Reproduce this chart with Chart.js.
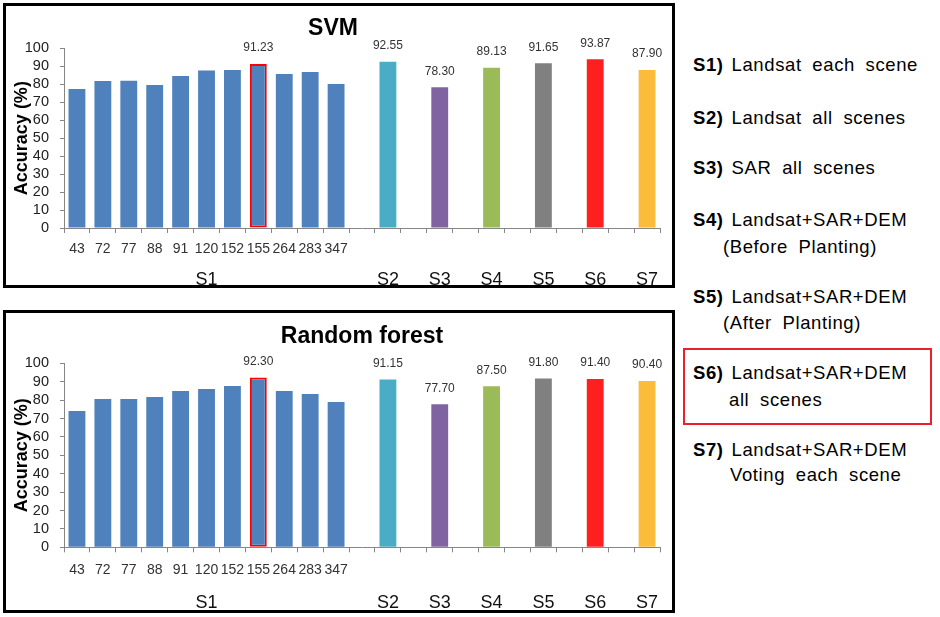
<!DOCTYPE html>
<html>
<head>
<meta charset="utf-8">
<script src="https://cdn.jsdelivr.net/npm/chart.js@4/dist/chart.umd.min.js"></script>
<style>
  html, body { margin: 0; padding: 0; background: #fff; }
  body { width: 940px; height: 617px; position: relative; overflow: hidden; font-family: "Liberation Sans", Arial, sans-serif; }
  .panel { position: absolute; border: 3px solid #000; background: #fff; }
  .panel canvas { display: block; }
  .lg { position: absolute; white-space: nowrap; font-size: 18.5px; line-height: 22px; letter-spacing: 0.6px; word-spacing: 5px; color: #000; }
  .lg b { font-weight: bold; letter-spacing: 0.6px; margin-right: 8px; }
  #hl { position: absolute; left: 683px; top: 348px; width: 245px; height: 73px; border: 2px solid #E8212B; }
</style>
</head>
<body>
<div class="panel" id="p1" style="left:3px;top:3px;width:666px;height:279px;"><canvas id="svm" width="666" height="279"></canvas></div>
<div class="panel" id="p2" style="left:3px;top:310px;width:666px;height:297px;"><canvas id="rf" width="666" height="297"></canvas></div>

<div id="hl"></div>
<div class="lg" style="left:693px;top:54px;"><b>S1)</b>Landsat each scene</div>
<div class="lg" style="left:693px;top:107px;"><b>S2)</b>Landsat all scenes</div>
<div class="lg" style="left:693px;top:157px;"><b>S3)</b>SAR all scenes</div>
<div class="lg" style="left:693px;top:209px;"><b>S4)</b>Landsat+SAR+DEM</div>
<div class="lg" style="left:723px;top:236px;">(Before Planting)</div>
<div class="lg" style="left:693px;top:286px;"><b>S5)</b>Landsat+SAR+DEM</div>
<div class="lg" style="left:723px;top:312px;">(After Planting)</div>
<div class="lg" style="left:693px;top:362px;"><b>S6)</b>Landsat+SAR+DEM</div>
<div class="lg" style="left:729px;top:389px;">all scenes</div>
<div class="lg" style="left:693px;top:439px;"><b>S7)</b>Landsat+SAR+DEM</div>
<div class="lg" style="left:730px;top:464px;">Voting each scene</div>

<script>
// ---- data ----
const S1_SCENES = ['43','72','77','88','91','120','152','155','264','283','347'];
const GROUPS = ['S2','S3','S4','S5','S6','S7'];
const SVM_S1 = [77.4, 81.8, 82.0, 79.6, 84.6, 87.6, 87.9, 91.23, 85.7, 86.8, 80.1];
const SVM_GROUPS = [92.55, 78.30, 89.13, 91.65, 93.87, 87.90];
const RF_S1 = [74.1, 80.6, 80.6, 81.7, 85.0, 86.1, 87.7, 92.30, 85.0, 83.3, 79.0];
const RF_GROUPS = [91.15, 77.70, 87.50, 91.80, 91.40, 90.40];
const Y_MIN = 0, Y_MAX = 100, Y_STEP = 10;
const HIGHLIGHT_SCENE = '155';
const S1_COLOR = '#4F81BD';
const GROUP_COLORS = ['#4BACC6', '#8064A2', '#9BBB59', '#808080', '#FF1F1F', '#FBBC3A'];

const FONT = '"Liberation Sans", Arial, sans-serif';

function build(s1vals, gvals) {
  const sceneLabels = [], groupLabels = [], data = [], colors = [], borders = [], bw = [], show = [];
  const mid = Math.floor(S1_SCENES.length / 2);
  S1_SCENES.forEach((s, i) => {
    const hl = s === HIGHLIGHT_SCENE;
    sceneLabels.push(s); groupLabels.push(i === mid ? 'S1' : '');
    data.push(s1vals[i]); colors.push(S1_COLOR);
    borders.push(hl ? '#FF0000' : 'rgba(0,0,0,0)'); bw.push(hl ? 2 : 0); show.push(hl);
  });
  GROUPS.forEach((g, j) => {
    sceneLabels.push(''); groupLabels.push(''); data.push(null); colors.push('rgba(0,0,0,0)');
    borders.push('rgba(0,0,0,0)'); bw.push(0); show.push(false);
    sceneLabels.push(''); groupLabels.push(g); data.push(gvals[j]); colors.push(GROUP_COLORS[j]);
    borders.push('rgba(0,0,0,0)'); bw.push(0); show.push(true);
  });
  return { sceneLabels, groupLabels, data, colors, borders, bw, show };
}

const valueLabels = {
  id: 'valueLabels',
  afterDatasetsDraw(chart) {
    const ctx = chart.ctx;
    const ds = chart.data.datasets[0];
    const meta = chart.getDatasetMeta(0);
    ctx.save();
    ctx.font = '12px ' + FONT;
    ctx.fillStyle = '#333';
    ctx.textAlign = 'center';
    ctx.textBaseline = 'middle';
    meta.data.forEach((bar, i) => {
      if (!ds.showLabel[i] || ds.data[i] == null) return;
      ctx.fillText(ds.data[i].toFixed(2), bar.x, bar.y - 16);
    });
    ctx.restore();
  }
};

function makeChart(id, title, s1vals, gvals, cfg) {
  const b = build(s1vals, gvals);
  return new Chart(document.getElementById(id), {
    type: 'bar',
    data: {
      labels: b.sceneLabels,
      datasets: [{
        data: b.data,
        backgroundColor: b.colors,
        borderColor: b.borders,
        borderWidth: b.bw,
        borderSkipped: false,
        barPercentage: 0.65,
        categoryPercentage: 1,
        showLabel: b.show,
        xAxisID: 'x', yAxisID: 'y'
      }]
    },
    options: {
      responsive: false, animation: false, devicePixelRatio: 1,
      layout: { padding: { left: 0, right: 12, top: 0, bottom: 0 } },
      plugins: {
        legend: { display: false },
        tooltip: { enabled: false },
        title: {
          display: true, text: title, color: '#000', fullSize: cfg.fullSize,
          font: { family: FONT, size: 23, weight: 'bold' },
          padding: { top: cfg.tTop, bottom: cfg.tBottom }
        }
      },
      scales: {
        x: {
          type: 'category', offset: true,
          grid: { display: true, drawOnChartArea: false, drawTicks: true, tickLength: 5, color: '#868686', offset: true },
          border: { color: '#868686' },
          ticks: { font: { family: FONT, size: 14 }, color: '#333', padding: cfg.x1Pad, autoSkip: false, maxRotation: 0, minRotation: 0 },
          afterFit: s => { s.height = 32; }
        },
        x2: {
          type: 'category', labels: b.groupLabels, position: 'bottom', offset: true, weight: 1,
          grid: { display: false }, border: { display: false },
          ticks: { font: { family: FONT, size: 18 }, color: '#111', padding: cfg.x2Pad, autoSkip: false, maxRotation: 0, minRotation: 0 },
          afterFit: s => { s.height = cfg.x2H; }
        },
        y: {
          min: Y_MIN, max: Y_MAX,
          grid: { drawOnChartArea: false, tickLength: 4, color: '#868686' },
          border: { color: '#868686' },
          ticks: { stepSize: Y_STEP, autoSkip: false, font: { family: FONT, size: 14.5 }, color: '#222', padding: 11 },
          title: { display: true, text: 'Accuracy (%)', color: '#000', font: { family: FONT, size: 18, weight: 'bold' }, padding: { top: 5, bottom: 0 } },
          afterFit: s => { s.width = 58; }
        }
      }
    },
    plugins: [valueLabels]
  });
}

makeChart('svm', 'SVM', SVM_S1, SVM_GROUPS, { fullSize: true, tTop: 9, tBottom: 5.7, x1Pad: 7.3, x2Pad: 1.2, x2H: 25 });
makeChart('rf', 'Random forest', RF_S1, RF_GROUPS, { fullSize: false, tTop: 10.2, tBottom: 12.5, x1Pad: 9.3, x2Pad: 4.9, x2H: 30.7 });
</script>
</body>
</html>
